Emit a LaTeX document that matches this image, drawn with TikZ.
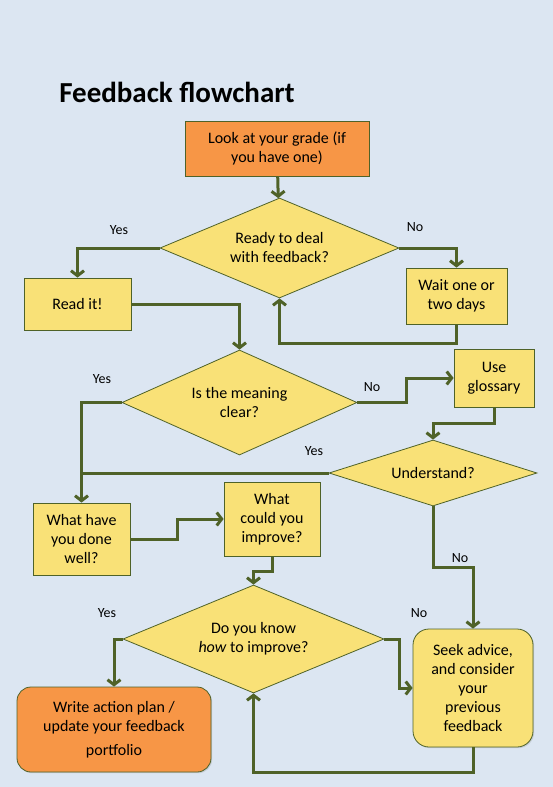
\documentclass[tikz,border=0pt]{standalone}
\usepackage{fontspec}
\setmainfont{Carlito}
\usetikzlibrary{shapes.geometric,arrows.meta,shadows}
\definecolor{bgblue}{HTML}{DCE6F2}
\definecolor{boxorange}{HTML}{F79646}
\definecolor{boxyellow}{HTML}{F9E177}
\definecolor{flowgreen}{HTML}{4F6228}

\begin{document}
\begin{tikzpicture}[x=1pt,y=-1pt,
    every node/.style={font=\fontsize{16}{19}\selectfont, align=center},
    box/.style={rectangle, draw=flowgreen, line width=0.8pt, fill=boxyellow, inner sep=2pt,
        drop shadow={shadow xshift=1.2pt, shadow yshift=-1.2pt, opacity=0.25}},
    question/.style={diamond, draw=flowgreen, line width=0.8pt, fill=boxyellow, inner sep=0pt},
    answer/.style={font=\fontsize{14}{16}\selectfont},
    flow/.style={draw=flowgreen, line width=3pt, -{Straight Barb[length=5pt,width=13pt]}},
    link/.style={draw=flowgreen, line width=3pt}]
    \fill[bgblue] (0,0) rectangle (553,787);
    \useasboundingbox (0,0) rectangle (553,787);
    \node[font=\fontsize{29}{33}\selectfont\bfseries] (title) at (177,92) {Feedback flowchart};

    \node[box, fill=boxorange, minimum width=184pt, minimum height=55pt] (look) at (277,148.5) {Look at your grade (if\\you have one)};
    \node[question, aspect=2.39, minimum width=239pt, minimum height=100pt] (ready) at (279.5,248) {Ready to deal\\with feedback?};
    \node[box, minimum width=107pt, minimum height=52pt] (read) at (77.5,304) {Read it!};
    \node[box, minimum width=101pt, minimum height=56pt] (wait) at (456.5,296) {Wait one or\\two days};
    \node[question, aspect=2.24, minimum width=235pt, minimum height=105pt] (clear) at (239.5,402.5) {Is the meaning\\clear?};
    \node[box, minimum width=80pt, minimum height=58pt] (gloss) at (494,378) {Use\\glossary};
    \node[question, aspect=3.15, minimum width=208pt, minimum height=66pt] (under) at (433,473) {Understand?};
    \node[box, minimum width=97pt, minimum height=72pt] (well) at (81.5,539) {What have\\you done\\well?};
    \node[box, minimum width=96pt, minimum height=74pt] (improve) at (272,519) {What\\could you\\improve?};
    \node[question, aspect=2.42, minimum width=261pt, minimum height=108pt] (how) at (253.5,639) {Do you know\\\textit{how} to improve?};
    \node[box, fill=boxorange, rounded corners=14pt, minimum width=194pt, minimum height=85pt] (plan) at (114,729.5) {Write action plan /\\update your feedback\\[5pt]portfolio};
    \node[box, rounded corners=16pt, minimum width=120pt, minimum height=118pt] (seek) at (473,688) {Seek advice,\\and consider\\your\\previous\\feedback};

    \draw[flow] (look) -- (ready);
    \draw[flow] (ready.west) -| (read.north);
    \draw[flow] (ready.east) -| (wait.north);
    \draw[flow] (wait.south) -- ++(0,19) -| (ready.south);
    \draw[flow] (read.east) -| (clear.north);
    \draw[flow] (clear.east) -- ++(49,0) |- (gloss.west);
    \draw[flow] (gloss.south) -- ++(0,16) -| (under.north);
    \draw[flow] (clear.west) -| (well.north);
    \draw[link] (under.west) -- (under.west -| well.north);
    \draw[flow] (well.east) -- ++(47,0) |- (improve.west);
    \draw[flow] (improve.south) -- ++(0,15) -| (how.north);
    \draw[flow] (how.west) -| (plan.north);
    \draw[flow] (how.east) -- ++(15,0) |- (seek.west);
    \draw[flow] (under.south) -- ++(0,61) -| (seek.north);
    \draw[flow] (seek.south) -- ++(0,25) -| (how.south);

    \node[answer] (yes1) at (119,230) {Yes};
    \node[answer] (no1) at (415,227) {No};
    \node[answer] (yes2) at (102,379) {Yes};
    \node[answer] (no2) at (372,387) {No};
    \node[answer] (yes3) at (314,451) {Yes};
    \node[answer] (no3) at (460,558) {No};
    \node[answer] (yes4) at (107,613) {Yes};
    \node[answer] (no4) at (419,613) {No};
\end{tikzpicture}
\end{document}
